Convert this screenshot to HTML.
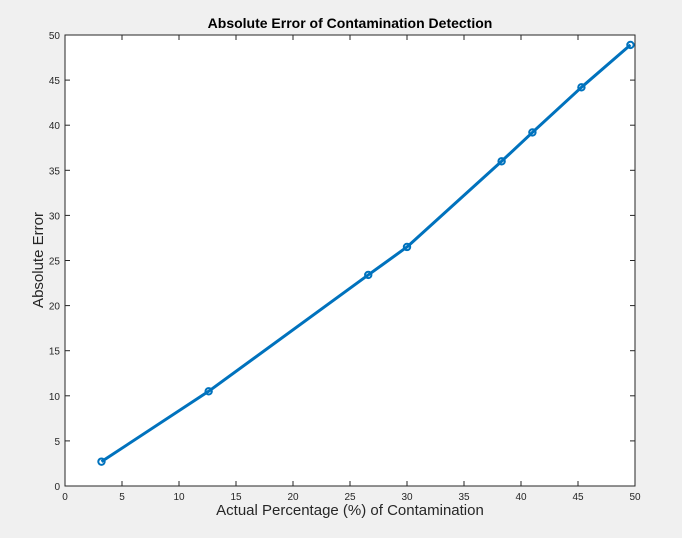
<!DOCTYPE html>
<html><head><meta charset="utf-8"><style>
body{margin:0;background:#f0f0f0;}
svg{display:block;font-family:"Liberation Sans",Arial,sans-serif;}
</style></head><body>
<svg id="chart" width="682" height="538">
<rect x="0" y="0" width="682" height="538" fill="#f0f0f0"/>
<rect x="65" y="35" width="570" height="451" fill="#fff" stroke="#262626" stroke-width="1"/>
<text x="350" y="28" text-anchor="middle" font-size="14" font-weight="bold" fill="#000">Absolute Error of Contamination Detection</text>
<text x="350" y="515" text-anchor="middle" font-size="15" fill="#262626">Actual Percentage (%) of Contamination</text>
<text transform="translate(43,260) rotate(-90)" text-anchor="middle" font-size="15" fill="#262626">Absolute Error</text>
<g id="axes"></g>
<g id="series"></g>
</svg>
<script>
const xTicks=[0,5,10,15,20,25,30,35,40,45,50];
const yTicks=[0,5,10,15,20,25,30,35,40,45,50];
const xValues=[3.2,12.6,26.6,30,38.3,41,45.3,49.6];
const yValues=[2.7,10.5,23.4,26.5,36,39.2,44.2,48.9];
const L=65,R=635,T=35,B=486;
function sx(v){return L+(v-0)/(50-0)*(R-L);}
function sy(v){return B-(v-0)/(50-0)*(B-T);}
const NS='http://www.w3.org/2000/svg';
const axes=document.getElementById('axes');
const ser=document.getElementById('series');
function mk(tag,attrs,parent){const e=document.createElementNS(NS,tag);for(const k in attrs)e.setAttribute(k,attrs[k]);parent.appendChild(e);return e;}
xTicks.forEach(t=>{
  const x=sx(t);
  const a=mk('line',{x1:x,x2:x,y1:B,y2:B-5,stroke:'#262626'},axes);
  
  
  const b=mk('line',{x1:x,x2:x,y1:T,y2:T+5,stroke:'#262626'},axes);
  
  
  const tx=mk('text',{x:x,y:B+14,'text-anchor':'middle','font-size':'10',fill:'#262626'},axes);
  tx.textContent=t;
  
  
});
yTicks.forEach(t=>{
  const y=sy(t);
  const a=mk('line',{x1:L,x2:L+5,y1:y,y2:y,stroke:'#262626'},axes);
  
  
  const b=mk('line',{x1:R,x2:R-5,y1:y,y2:y,stroke:'#262626'},axes);
  
  
  const tx=mk('text',{x:L-5,y:y+4,'text-anchor':'end','font-size':'10',fill:'#262626'},axes);
  tx.textContent=t;
  
  
});
const pts=xValues.map((v,i)=>sx(v)+','+sy(yValues[i])).join(' ');
const line=mk('polyline',{points:pts,fill:'none',stroke:'#0072bd','stroke-width':'3','stroke-linejoin':'round'},ser);


xValues.forEach((v,i)=>{
  const c=mk('circle',{cx:sx(v),cy:sy(yValues[i]),r:3.2,fill:'none',stroke:'#0072bd','stroke-width':'2'},ser);
  
  
});
</script>
</body></html>
